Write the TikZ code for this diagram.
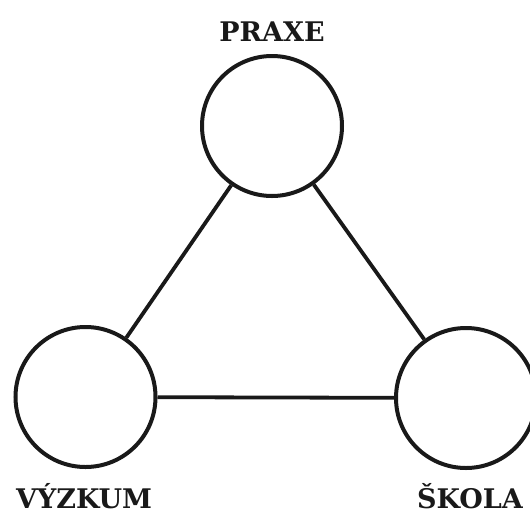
\documentclass[tikz,border=0pt]{standalone}
\usepackage{fontspec}
\setmainfont{DejaVu Serif}
\begin{document}
\begin{tikzpicture}[x=1pt,y=-1pt,
  ring/.style={circle,draw=black!90,line width=4pt,minimum size=140pt,inner sep=0pt},
  link/.style={draw=black!90,line width=3.8pt},
  lbl/.style={font=\bfseries\fontsize{27}{30}\selectfont,text=black!90,anchor=base,inner sep=0pt}]
\useasboundingbox (0,0) rectangle (530,515);
\node[ring] (praxe) at (272,126) {};
\node[ring] (vyzkum) at (85.5,397) {};
\node[ring] (skola) at (466,398) {};
\draw[link] (praxe) -- (vyzkum);
\draw[link] (praxe) -- (skola);
\draw[link] (vyzkum) -- (skola);
\node[lbl] (tp) at (272,41) {PRAXE};
\node[lbl] (tv) at (84,508.5) {VÝZKUM};
\node[lbl] (ts) at (470,508.5) {ŠKOLA};
\end{tikzpicture}
\end{document}
